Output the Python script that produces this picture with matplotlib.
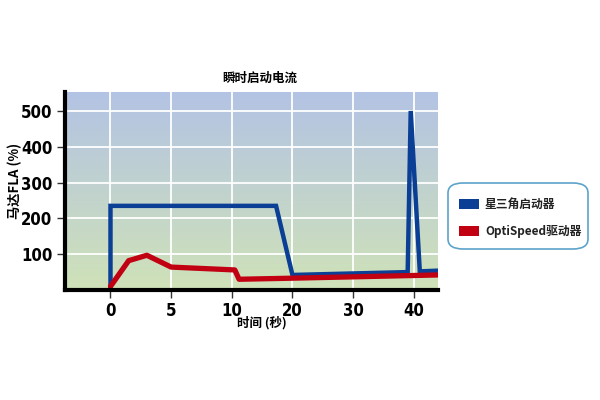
import numpy as np
import matplotlib
matplotlib.use("Agg")
import matplotlib.pyplot as plt
from matplotlib.patches import FancyBboxPatch, Rectangle
from matplotlib.colors import LinearSegmentedColormap
from matplotlib import font_manager as fm

plt.rcParams['font.family'] = ['Noto Sans CJK SC', 'DejaVu Sans']

# Data
star_t = [0, 0, 17.3, 20, 39.0, 39.5, 41.0, 44]
star_v = [5, 235, 235, 42, 50, 500, 52, 54]
opti_t = [0, 1.5, 3.0, 5.0, 10.5, 11.2, 20, 44]
opti_v = [10, 82, 97, 64, 56, 30, 33, 42]

x_ticks = [0, 5, 10, 20, 30, 40]
y_ticks = [100, 200, 300, 400, 500]
title = "瞬时启动电流"
xlabel = "时间 (秒)"
ylabel = "马达FLA (%)"
legend_labels = ["星三角启动器", "OptiSpeed驱动器"]

blue = "#0b3f95"
red = "#c10012"

# condensed bold font for tick labels if available
cond_path = None
for f in fm.findSystemFonts():
    name = f.lower()
    if 'dejavusanscondensed-bold.ttf' in name:
        cond_path = f
        break
if cond_path is None:
    for f in fm.findSystemFonts():
        name = f.lower()
        if 'narrow' in name and 'bold' in name and 'italic' not in name:
            cond_path = f
            break
tick_fp = fm.FontProperties(fname=cond_path, size=12) if cond_path else fm.FontProperties(family='DejaVu Sans', weight='bold', size=11)

tick_pos = np.arange(len(x_ticks), dtype=float)
tv = np.array(x_ticks, dtype=float)

def fwd(t):
    t = np.asarray(t, dtype=float)
    u = np.interp(t, tv, tick_pos)
    u = np.where(t < tv[0], (t - tv[0]) / (tv[1] - tv[0]), u)
    u = np.where(t > tv[-1], tick_pos[-1] + (t - tv[-1]) / (tv[-1] - tv[-2]), u)
    return u

def inv(u):
    u = np.asarray(u, dtype=float)
    t = np.interp(u, tick_pos, tv)
    t = np.where(u < 0, tv[0] + u * (tv[1] - tv[0]), t)
    t = np.where(u > tick_pos[-1], tv[-1] + (u - tick_pos[-1]) * (tv[-1] - tv[-2]), t)
    return t

fig = plt.figure(figsize=(6, 4), dpi=100)
ax = fig.add_axes([65/600, 1-290/400, (438-65)/600, (290-92)/400])
ax.set_xscale('function', functions=(fwd, inv))
ax.set_xlim(inv(-0.75), 44)
ax.set_ylim(0, 553)

cmap = LinearSegmentedColormap.from_list("bg", ["#cfe2b8", "#b3c3e4"])
grad = np.linspace(0, 1, 256).reshape(-1, 1)
ax.imshow(grad, cmap=cmap, aspect='auto', origin='lower', extent=[0, 1, 0, 1],
          transform=ax.transAxes, zorder=0)

ax.set_xticks(x_ticks)
ax.set_yticks(y_ticks)
ax.set_xticklabels([str(v) for v in x_ticks])
ax.minorticks_off()
ax.grid(True, color='white', linewidth=1.3, zorder=1)
ax.set_axisbelow(False)

ax.plot(star_t, star_v, color=blue, linewidth=3.2, solid_joinstyle='miter', zorder=3)
ax.plot(opti_t, opti_v, color=red, linewidth=3.8, solid_capstyle='round', zorder=4)

for s in ['top', 'right']:
    ax.spines[s].set_visible(False)
for s in ['left', 'bottom']:
    ax.spines[s].set_linewidth(3)
    ax.spines[s].set_color('black')
    ax.spines[s].set_zorder(5)

ax.tick_params(axis='both', length=6, width=1, color='#333333', pad=3)
for lab in ax.get_xticklabels() + ax.get_yticklabels():
    lab.set_fontproperties(tick_fp)

fig.text(260/600, 1-78/400, title, ha='center', va='center', fontsize=9, fontweight='bold')
fig.text(262/600, 1-323/400, xlabel, ha='center', va='center', fontsize=9, fontweight='bold')
fig.text(15/600, 1-181/400, ylabel, ha='center', va='center', rotation=90, fontsize=9.5, fontweight='bold')

# Legend box
box = FancyBboxPatch((448/600, 1-249/400), (588-448)/600, (249-183)/400,
                     boxstyle="round,pad=0,rounding_size=0.025", transform=fig.transFigure,
                     facecolor='white', edgecolor='#5ea3c9', linewidth=1.2)
fig.add_artist(box)
for i, (lab, col) in enumerate(zip(legend_labels, [blue, red])):
    yc = 1 - (204 + i * 27) / 400
    fig.add_artist(Rectangle((459/600, yc - 5/400), 20/600, 10/400, transform=fig.transFigure,
                             facecolor=col, edgecolor='none'))
    fig.text(485/600, yc, lab, ha='left', va='center', fontsize=8.5, fontweight='bold',
             color='#222222')

fig.savefig("out.png", dpi=100)
